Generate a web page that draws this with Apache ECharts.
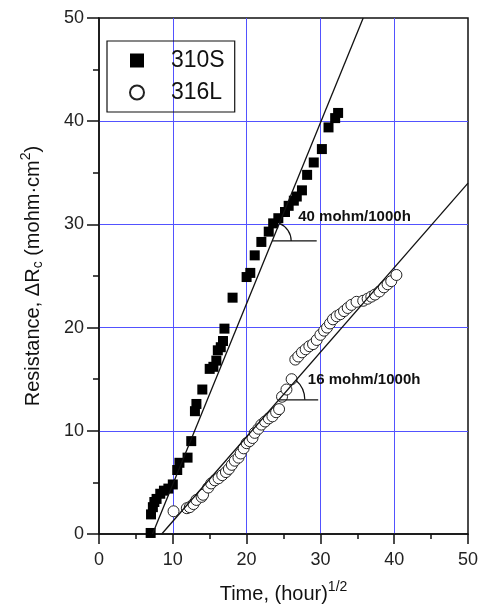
<!DOCTYPE html>
<html>
<head>
<meta charset="utf-8">
<script src="https://cdn.jsdelivr.net/npm/echarts@6/dist/echarts.min.js"></script>
<style>
  html, body { margin: 0; padding: 0; background: #fff; }
  #chart { width: 481px; height: 607px; }
</style>
</head>
<body>
<div id="chart"></div>
<script>
// 資料：[sqrt(time), ΔRc]
const s310S = [
  [7.0, 0.1], [7.05, 1.9], [7.3, 2.6], [7.5, 3.1], [7.8, 3.4], [8.3, 3.9], [8.8, 4.2], [9.4, 4.4],
  [10.0, 4.8], [10.6, 6.2], [10.9, 6.9], [12.0, 7.4], [12.5, 9.0], [13.0, 11.9], [13.2, 12.6],
  [14.0, 14.0], [15.0, 16.0], [15.5, 16.2], [15.9, 16.8], [16.1, 17.8], [16.5, 18.1], [16.8, 18.7],
  [17.0, 19.9], [18.1, 22.9], [20.0, 24.9], [20.5, 25.3], [21.1, 27.0], [22.0, 28.3], [23.0, 29.3],
  [23.6, 30.1], [24.3, 30.6], [25.2, 31.2], [25.7, 31.8], [26.4, 32.3], [26.8, 32.7], [27.5, 33.3],
  [28.2, 34.8], [29.1, 36.0], [30.2, 37.3], [31.1, 39.4], [32.0, 40.3], [32.4, 40.8]
]
const s316L = [
  [10.1, 2.2], [11.9, 2.5], [12.3, 2.6], [12.8, 2.9], [13.2, 3.3], [13.9, 3.6], [14.1, 3.8],
  [14.8, 4.5], [15.2, 4.9], [15.7, 5.2], [16.2, 5.4], [16.7, 5.7], [17.2, 6.0], [17.6, 6.3],
  [18.0, 6.7], [18.4, 7.1], [18.9, 7.4], [19.2, 7.8], [19.6, 8.3], [20.0, 8.8], [20.4, 9.0],
  [20.8, 9.3], [21.1, 9.8], [21.6, 10.2], [22.0, 10.6], [22.5, 10.9], [23.0, 11.2], [23.5, 11.4],
  [24.0, 11.8], [24.4, 12.1], [24.8, 13.3], [25.4, 14.0], [26.1, 15.0], [26.6, 16.9], [27.0, 17.2],
  [27.5, 17.6], [28.0, 17.9], [28.5, 18.2], [29.0, 18.4], [29.5, 18.8], [30.0, 19.3], [30.5, 19.7],
  [30.9, 20.0], [31.3, 20.4], [31.7, 20.8], [32.2, 21.1], [32.7, 21.3], [33.2, 21.6], [33.7, 21.9],
  [34.2, 22.2], [34.9, 22.5], [35.8, 22.6], [36.4, 22.8], [36.9, 23.0], [37.4, 23.2], [38.0, 23.5],
  [38.6, 23.9], [39.1, 24.2], [39.6, 24.5], [40.3, 25.1]
]
// 線性擬合
const fit310S = [[7.25, 0], [35.8, 50]]
const fit316L = [[8.5, 0], [50, 34]]
// 斜率標註 [y, 水平線終點x]
const mark310S = [28.4, 29.5]
const mark316L = [13.0, 29.7]
const text310S = [27.0, 30.7, '40 mohm/1000h']
const text316L = [28.3, 14.9, '16 mohm/1000h']
const xTicks = [0, 50, 10]
const yTicks = [0, 50, 10]

const ink = '#111'
const blue = '#5252ff'
const font = 'Liberation Sans, Arial, sans-serif'

const chart = echarts.init(document.getElementById('chart'))

const angleMark = (fit, mark, r) => ({
  type: 'custom',
  silent: true,
  z: 4,
  data: [mark],
  renderItem: (params, api) => {
    const y = api.value(0)
    const xEnd = api.value(1)
    const slope = (fit[1][1] - fit[0][1]) / (fit[1][0] - fit[0][0])
    const x0 = fit[0][0] + (y - fit[0][1]) / slope
    const c = api.coord([x0, y])
    const e = api.coord([xEnd, y])
    const p = api.coord(fit[1])
    const ang = Math.atan2(p[1] - c[1], p[0] - c[0])
    return {
      type: 'group',
      children: [
        { type: 'line', shape: { x1: c[0], y1: c[1], x2: e[0], y2: e[1] }, style: { stroke: ink, lineWidth: 1.2 } },
        { type: 'arc', shape: { cx: c[0], cy: c[1], r: r, startAngle: ang, endAngle: 0, clockwise: true },
          style: { stroke: ink, fill: 'none', lineWidth: 1.2 } }
      ]
    }
  }
})

const rateText = (t) => ({
  type: 'custom',
  silent: true,
  z: 5,
  data: [t],
  renderItem: (params, api) => {
    const pt = api.coord([api.value(0), api.value(1)])
    return {
      type: 'text',
      x: pt[0], y: pt[1],
      style: { text: t[2], fill: ink, font: 'bold 15px ' + font, verticalAlign: 'middle', align: 'left' }
    }
  }
})

const fitLine = (data) => ({
  type: 'line',
  data: data,
  symbol: 'none',
  silent: true,
  z: 3,
  lineStyle: { color: ink, width: 1.3 }
})

chart.setOption({
  animation: false,
  backgroundColor: '#fff',
  textStyle: { fontFamily: font },
  grid: {
    left: 99, right: 13, top: 18, bottom: 73,
    outerBoundsMode: 'none',
    show: true, borderColor: ink, borderWidth: 1.5, backgroundColor: 'transparent'
  },
  legend: {
    data: ['310S', '316L'],
    orient: 'vertical',
    left: 107, top: 41,
    padding: [8, 10, 8, 22],
    itemGap: 9,
    itemWidth: 14, itemHeight: 14,
    borderColor: ink, borderWidth: 1.2,
    textStyle: { fontSize: 23, color: ink, padding: [0, 0, 0, 22] }
  },
  xAxis: {
    type: 'value',
    min: xTicks[0], max: xTicks[1], interval: xTicks[2],
    name: '{n|Time, (hour)}{sup|1/2}',
    nameLocation: 'middle',
    nameGap: 46,
    nameTextStyle: {
      rich: {
        n: { fontSize: 20, color: ink, fontFamily: font },
        sup: { fontSize: 14, color: ink, fontFamily: font, padding: [0, 0, 14, 0] }
      }
    },
    axisLine: { lineStyle: { color: ink, width: 1.5 } },
    axisTick: { length: 10, lineStyle: { color: ink, width: 1.5 } },
    minorTick: { show: true, splitNumber: 2, length: 5, lineStyle: { color: ink, width: 1.5 } },
    axisLabel: { fontSize: 18, color: '#222', margin: 17 },
    splitLine: { show: true, showMinLine: false, showMaxLine: false, lineStyle: { color: blue, width: 1 } }
  },
  yAxis: {
    type: 'value',
    min: yTicks[0], max: yTicks[1], interval: yTicks[2],
    name: '{n|Resistance, ΔR}{sub|c}{n| (mohm·cm}{sup|2}{n|)}',
    nameLocation: 'middle',
    nameGap: 52,
    nameTextStyle: {
      rich: {
        n: { fontSize: 20, color: ink, fontFamily: font },
        sub: { fontSize: 14, color: ink, fontFamily: font, padding: [10, 0, 0, 0] },
        sup: { fontSize: 14, color: ink, fontFamily: font, padding: [0, 0, 14, 0] }
      }
    },
    axisLine: { lineStyle: { color: ink, width: 1.5 } },
    axisTick: { length: 12, lineStyle: { color: ink, width: 1.5 } },
    minorTick: { show: true, splitNumber: 2, length: 6, lineStyle: { color: ink, width: 1.5 } },
    axisLabel: { fontSize: 18, color: '#222', margin: 15 },
    splitLine: { show: true, showMinLine: false, showMaxLine: false, lineStyle: { color: blue, width: 1 } }
  },
  series: [
    fitLine(fit310S),
    fitLine(fit316L),
    {
      name: '310S',
      type: 'scatter',
      data: s310S,
      symbol: 'rect',
      symbolSize: 10,
      z: 2,
      itemStyle: { color: '#000', opacity: 1 }
    },
    {
      name: '316L',
      type: 'scatter',
      data: s316L,
      symbol: 'circle',
      symbolSize: 11,
      z: 2,
      itemStyle: { color: '#fff', borderColor: '#222', borderWidth: 1, opacity: 1 }
    },
    angleMark(fit310S, mark310S, 19),
    angleMark(fit316L, mark316L, 26),
    rateText(text310S),
    rateText(text316L)
  ]
})

window.addEventListener('resize', () => chart.resize())
</script>
</body>
</html>
